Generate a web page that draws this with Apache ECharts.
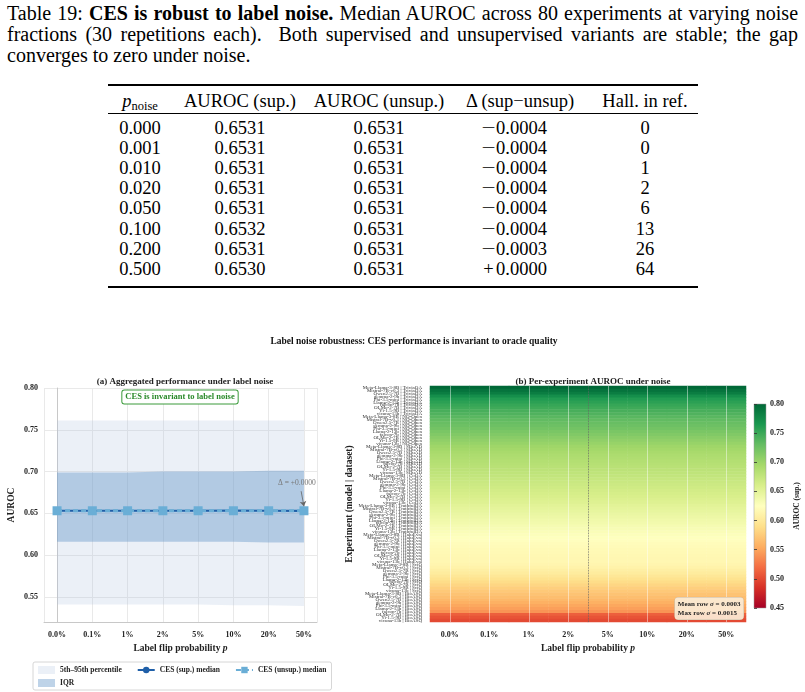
<!DOCTYPE html>
<html>
<head>
<meta charset="utf-8">
<script src="https://cdn.jsdelivr.net/npm/echarts@6/dist/echarts.min.js"></script>
<style>
body{margin:0;background:#fff;}
#page{position:relative;width:805px;height:692px;overflow:hidden;font-family:"Liberation Serif",serif;color:#000;}
#cap{position:absolute;left:7px;top:3px;width:791px;font-size:20px;line-height:21px;text-align:justify;}
.rule{position:absolute;left:108px;width:590px;background:#000;}
.cell{position:absolute;width:160px;margin-left:-80px;text-align:center;font-size:18.5px;line-height:20px;white-space:nowrap;}
.cell sub{font-size:12.5px;vertical-align:-3px;line-height:0;}
.sg{display:inline-block;width:15px;text-align:center;}
.sg.m{transform:scaleX(1.35);}
#chart{position:absolute;left:0;top:0;width:805px;height:692px;}
</style>
</head>
<body>
<div id="page">
  <div id="cap">Table 19: <b>CES is robust to label noise.</b> Median AUROC across 80 experiments at varying noise fractions (30 repetitions each).&nbsp; Both supervised and unsupervised variants are stable; the gap converges to zero under noise.</div>
  <div id="tbl"></div>
  <div id="chart"></div>
</div>
<script>
// ---- table data ----
var tableHeaders = ['<i>p</i><sub>noise</sub>', 'AUROC (sup.)', 'AUROC (unsup.)', '\u0394 (sup\u2212unsup)', 'Hall. in ref.'];
var tableNoise = ['0.000', '0.001', '0.010', '0.020', '0.050', '0.100', '0.200', '0.500'];
var tableSup = ['0.6531', '0.6531', '0.6531', '0.6531', '0.6531', '0.6532', '0.6531', '0.6530'];
var tableUnsup = ['0.6531', '0.6531', '0.6531', '0.6531', '0.6531', '0.6531', '0.6531', '0.6531'];
var tableDelta = ['\u22120.0004', '\u22120.0004', '\u22120.0004', '\u22120.0004', '\u22120.0004', '\u22120.0004', '\u22120.0003', '+0.0000'];
var tableHall = ['0', '0', '1', '2', '6', '13', '26', '64'];

// ---- panel (a) data ----
var noiseLabels = ['0.0%', '0.1%', '1%', '2%', '5%', '10%', '20%', '50%'];
var supMedian = [0.6531, 0.6531, 0.6531, 0.6531, 0.6531, 0.6532, 0.6531, 0.6530];
var unsupMedian = [0.6531, 0.6531, 0.6531, 0.6531, 0.6531, 0.6531, 0.6531, 0.6531];
var p05 = [0.541, 0.541, 0.541, 0.541, 0.541, 0.540, 0.540, 0.539];
var p95 = [0.761, 0.761, 0.761, 0.761, 0.761, 0.761, 0.761, 0.761];
var q25 = [0.616, 0.616, 0.616, 0.616, 0.616, 0.616, 0.615, 0.615];
var q75 = [0.699, 0.699, 0.699, 0.700, 0.700, 0.700, 0.701, 0.701];

// ---- panel (b) data: one AUROC per experiment (rows sorted high -> low) ----
var models = ['Meta-Llama-3-8B', 'Mistral-7B-v0.3', 'Qwen2.5-7B', 'gemma-2-9b', 'Phi-3.5-mini', 'Llama-2-13b', 'falcon-7b', 'OLMo-2-7B', 'Yi-1.5-9B', 'vicuna-13b'];
var datasets = ['TriviaQA', 'NQ-Open', 'SQuAD', 'CoQA', 'TruthfulQA', 'HaluEval', 'SciQ', 'BioASQ'];
var rowAuroc = [
  0.800, 0.792, 0.785, 0.772, 0.762, 0.757, 0.752, 0.748, 0.744, 0.740,
  0.736, 0.732, 0.729, 0.726, 0.723, 0.719, 0.715, 0.711, 0.707, 0.703,
  0.699, 0.696, 0.693, 0.690, 0.688, 0.686, 0.684, 0.682, 0.680, 0.678,
  0.676, 0.673, 0.671, 0.669, 0.667, 0.664, 0.662, 0.660, 0.657, 0.655,
  0.652, 0.649, 0.647, 0.644, 0.642, 0.639, 0.637, 0.634, 0.632, 0.630,
  0.628, 0.626, 0.624, 0.622, 0.621, 0.619, 0.618, 0.617, 0.616, 0.616,
  0.614, 0.611, 0.607, 0.603, 0.598, 0.593, 0.588, 0.583, 0.578, 0.574,
  0.570, 0.566, 0.562, 0.557, 0.552, 0.547, 0.541, 0.512, 0.505, 0.500
];
var rdylgn = ['#a50026', '#d73027', '#f46d43', '#fdae61', '#fee08b', '#ffffbf', '#d9ef8b', '#a6d96a', '#66bd63', '#1a9850', '#006837'];

// ---- build table ----
(function() {
  var tbl = document.getElementById('tbl');
  var colX = [140, 240, 379, 514, 645];
  var html = '';
  html += '<div class="rule" style="top:84px;height:1.5px"></div>';
  html += '<div class="rule" style="top:113px;height:0.9px"></div>';
  html += '<div class="rule" style="top:286px;height:1.5px"></div>';
  for (var c = 0; c < tableHeaders.length; c++) {
    var hx = c === 3 ? 520 : colX[c];
    html += '<div class="cell" style="left:' + hx + 'px;top:91px">' + tableHeaders[c] + '</div>';
  }
  var cols = [tableNoise, tableSup, tableUnsup, tableDelta, tableHall];
  for (var r = 0; r < tableNoise.length; r++) {
    for (var c2 = 0; c2 < cols.length; c2++) {
      var txt = cols[c2][r];
      if (c2 === 3) {
        // wide math-style sign in front of the gap value
        var sign = txt.charAt(0);
        txt = '<span class="sg' + (sign === '\u2212' ? ' m' : '') + '">' + sign + '</span>' + txt.slice(1);
      }
      html += '<div class="cell" style="left:' + colX[c2] + 'px;top:' + (118 + r * 20.1) + 'px">' + txt + '</div>';
    }
  }
  tbl.innerHTML = html;
})();

// ---- chart ----
var serif = "'Liberation Serif', serif";
var myChart = echarts.init(document.getElementById('chart'));

var rowLabels = [];
for (var i = 0; i < rowAuroc.length; i++) {
  rowLabels.push(models[i % models.length] + ' | ' + datasets[Math.floor(i / models.length)]);
}
var heatData = [];
for (var r = 0; r < rowAuroc.length; r++) {
  for (var c = 0; c < noiseLabels.length; c++) {
    heatData.push([c, r, rowAuroc[r]]);
  }
}
function pairs(arr) {
  return arr.map(function(v, i) { return [i, v]; });
}
// filled band between lo and hi, drawn once through the axis scales
function bandSeries(name, lo, hi, color) {
  return {
    name: name, type: 'custom', xAxisIndex: 0, yAxisIndex: 0, z: 1, silent: true,
    color: color, itemStyle: { color: color },
    data: lo.map(function(v, k) { return [k, v, hi[k]]; }),
    encode: { x: 0, y: [1, 2] },
    renderItem: function(params, api) {
      if (params.dataIndex !== 0) return null;
      var top = [], bot = [];
      for (var k = 0; k < lo.length; k++) {
        top.push(api.coord([k, hi[k]]));
        bot.push(api.coord([k, lo[k]]));
      }
      return { type: 'polygon', shape: { points: top.concat(bot.reverse()) }, style: { fill: color } };
    }
  };
}

var bandLight = 'rgba(176,196,222,0.25)';
var bandIqr = 'rgba(100,150,200,0.42)';
var supColor = '#1f5fa8';
var unsupColor = '#6aaed6';
var legendText = { fontFamily: serif, fontSize: 7.5, fontWeight: 'bold', color: '#222' };
var axisNameStyle = { fontFamily: serif, fontSize: 9.5, fontWeight: 'bold', color: '#222',
  rich: { i: { fontFamily: serif, fontSize: 9.5, fontWeight: 'bold', fontStyle: 'italic', color: '#222' } } };

var gradStops = rdylgn.map(function(col, i) {
  return { offset: 1 - i / (rdylgn.length - 1), color: col };
});

var optionData = {
  backgroundColor: 'transparent',
  animation: false,
  title: [
    { text: 'Label noise robustness: CES performance is invariant to oracle quality', left: 409, top: 332, textAlign: 'center',
      textStyle: { fontFamily: serif, fontSize: 9.5, fontWeight: 'bold', color: '#111' } },
    { text: '(a) Aggregated performance under label noise', left: 180, top: 372, textAlign: 'center',
      textStyle: { fontFamily: serif, fontSize: 9, fontWeight: 'bold', color: '#222' } },
    { text: '(b) Per-experiment AUROC under noise', left: 588, top: 372, textAlign: 'center',
      textStyle: { fontFamily: serif, fontSize: 9, fontWeight: 'bold', color: '#222' } }
  ],
  grid: [
    { left: 44, top: 388, width: 273, height: 234 },
    { left: 430, top: 386, width: 316, height: 236 },
    { left: 754, top: 404, width: 12, height: 204, show: true, borderColor: '#999', borderWidth: 0.5,
      backgroundColor: new echarts.graphic.LinearGradient(0, 0, 0, 1, gradStops) }
  ],
  legend: [
    { left: 33, top: 662, itemWidth: 17, itemHeight: 8, itemGap: 15,
      padding: [4, 5, 16, 5], borderColor: '#ccc', borderWidth: 0.8, borderRadius: 2,
      textStyle: legendText,
      data: [
        { name: '5th\u201395th percentile', icon: 'rect' },
        { name: 'CES (sup.) median' },
        { name: 'CES (unsup.) median' }
      ] },
    { left: 33, top: 675, itemWidth: 17, itemHeight: 8, padding: [4, 5, 2, 5],
      textStyle: legendText,
      data: [{ name: 'IQR', icon: 'rect' }] }
  ],
  visualMap: {
    show: false, type: 'continuous', min: 0.45, max: 0.80, seriesIndex: 4,
    inRange: { color: rdylgn }
  },
  xAxis: [
    { gridIndex: 0, type: 'value', min: -0.37, max: 7.37, splitNumber: 8,
      axisLine: { show: true, lineStyle: { color: '#c8c8c8' } }, axisTick: { show: false },
      splitLine: { show: true, lineStyle: { color: '#e9e9e9' } },
      axisLabel: { showMinLabel: false, showMaxLabel: false, margin: 9, fontFamily: serif, fontSize: 8, fontWeight: 'bold', color: '#222',
        formatter: function(v) { var k = Math.round(v); return Math.abs(v - k) < 1e-6 ? noiseLabels[k] : ''; } },
      name: 'Label flip probability {i|p}', nameLocation: 'middle', nameGap: 22, nameTextStyle: axisNameStyle },
    { gridIndex: 1, type: 'category', data: noiseLabels,
      axisLine: { show: false }, axisTick: { show: false }, splitLine: { show: false },
      axisLabel: { margin: 9, fontFamily: serif, fontSize: 8, fontWeight: 'bold', color: '#222' },
      name: 'Label flip probability {i|p}', nameLocation: 'middle', nameGap: 22, nameTextStyle: axisNameStyle },
    { gridIndex: 2, type: 'value', show: false },
    { gridIndex: 1, type: 'value', min: 0, max: 8, show: false }
  ],
  yAxis: [
    { gridIndex: 0, type: 'value', min: 0.52, max: 0.80, splitNumber: 5,
      axisLine: { show: true, lineStyle: { color: '#c8c8c8' } }, axisTick: { show: false },
      splitLine: { show: true, lineStyle: { color: '#e9e9e9' } },
      axisLabel: { showMinLabel: false, margin: 6, fontFamily: serif, fontSize: 8, fontWeight: 'bold', color: '#222',
        formatter: function(v) { return v.toFixed(2); } },
      name: 'AUROC', nameLocation: 'middle', nameGap: 27, nameTextStyle: axisNameStyle },
    { gridIndex: 1, type: 'category', data: rowLabels, inverse: true,
      axisLine: { show: false }, axisTick: { show: false }, splitLine: { show: false },
      axisLabel: { interval: 0, margin: 8, fontFamily: serif, fontSize: 5, color: '#333' },
      name: 'Experiment (model | dataset)', nameLocation: 'middle', nameGap: 64, nameTextStyle: axisNameStyle },
    { gridIndex: 2, type: 'value', min: 0.45, max: 0.80, interval: 0.05, position: 'right',
      axisLine: { show: false }, splitLine: { show: false },
      axisTick: { show: true, length: 3, lineStyle: { color: '#333', width: 0.8 } },
      axisLabel: { margin: 4, fontFamily: serif, fontSize: 8, fontWeight: 'bold', color: '#222',
        formatter: function(v) { return v.toFixed(2); } },
      name: 'AUROC (sup.)', nameLocation: 'middle', nameGap: 27, nameRotate: 90,
      nameTextStyle: { fontFamily: serif, fontSize: 7.5, fontWeight: 'bold', color: '#222' } }
  ],
  series: [
    bandSeries('5th\u201395th percentile', p05, p95, bandLight),
    bandSeries('IQR', q25, q75, bandIqr),
    { name: 'CES (sup.) median', type: 'line', xAxisIndex: 0, yAxisIndex: 0, data: pairs(supMedian), z: 3,
      color: supColor, lineStyle: { width: 2.2, color: supColor }, symbol: 'circle', symbolSize: 7,
      itemStyle: { color: supColor } },
    { name: 'CES (unsup.) median', type: 'line', xAxisIndex: 0, yAxisIndex: 0, data: pairs(unsupMedian), z: 4,
      color: unsupColor, lineStyle: { width: 3, color: unsupColor, type: [5, 3] }, symbol: 'rect', symbolSize: 9,
      itemStyle: { color: unsupColor },
      markPoint: { silent: true, symbol: 'circle', symbolSize: 0,
        label: { show: true, formatter: '\u0394 = +0.0000', color: '#777', fontSize: 7.5, fontFamily: serif },
        data: [{ coord: [6.8, 0.6865] }] },
      markLine: { silent: true, symbol: ['none', 'arrow'], symbolSize: 5, label: { show: false },
        lineStyle: { color: '#666', width: 0.8, type: 'solid' },
        data: [[{ coord: [6.92, 0.6765] }, { coord: [7.0, 0.6585] }]] } },
    { name: 'heat', type: 'heatmap', xAxisIndex: 1, yAxisIndex: 1, data: heatData,
      emphasis: { disabled: true },
      markLine: { silent: true, symbol: 'none', label: { show: false },
        lineStyle: { color: 'rgba(255,255,255,0.45)', width: 1, type: 'solid' },
        data: noiseLabels.map(function(l) { return { xAxis: l }; }) } },
    { name: 'divider', type: 'line', xAxisIndex: 3, yAxisIndex: 1, z: 5, silent: true,
      data: [[4, rowLabels[0]]], showSymbol: false, lineStyle: { width: 0 },
      markLine: { silent: true, symbol: 'none', label: { show: false },
        lineStyle: { color: '#666', width: 0.8, type: 'dotted' },
        data: [{ xAxis: 4 }] } }
  ],
  graphic: [
    { type: 'text', x: 180, y: 397, z: 100,
      style: { text: 'CES is invariant to label noise', font: 'bold 8.5px ' + serif, fill: '#2b8a2b',
        align: 'center', verticalAlign: 'middle', backgroundColor: '#fff', borderColor: '#3a9a3a',
        borderWidth: 1, borderRadius: 2, padding: [2, 3] } },
    { type: 'text', right: 61, top: 597, z: 100,
      style: { text: 'Mean row {i|\u03c3} = 0.0003\nMax row {i|\u03c3} = 0.0015', font: 'bold 7px ' + serif, fill: '#222',
        align: 'right', backgroundColor: 'rgba(251,236,214,0.92)', borderColor: '#c9b9a0', borderWidth: 0.5,
        borderRadius: 3, padding: [2, 3], lineHeight: 9,
        rich: { i: { font: 'italic bold 7px ' + serif, fill: '#222' } } } }
  ]
};
myChart.setOption(optionData);
window.addEventListener('resize', function() {
  myChart.resize();
});
</script>
</body>
</html>
